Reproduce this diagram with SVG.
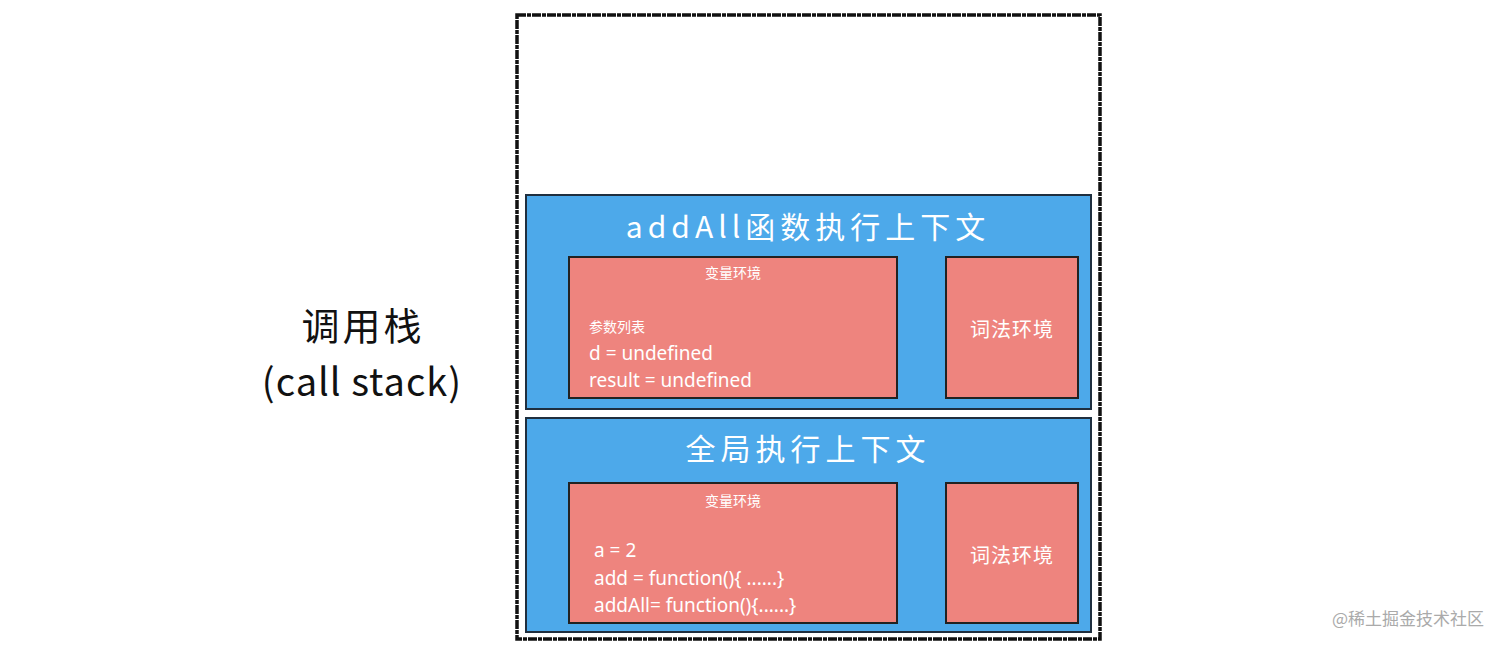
<svg xmlns="http://www.w3.org/2000/svg" width="1506" height="648" viewBox="0 0 1506 648">
<style>
.ctx{fill:#4da9ea;stroke:#1f2f3f;stroke-width:2}
.env{fill:#ee847e;stroke:#222;stroke-width:2}
.w{fill:#fff;font-family:"Noto Sans CJK SC","Noto Sans",sans-serif}
.t{font-size:30px;text-anchor:middle;letter-spacing:5px}
.s{font-size:14px}
.c{font-size:19px;font-family:"Noto Sans","Noto Sans CJK SC",sans-serif}
.lex{font-size:20px;text-anchor:middle;letter-spacing:1px}
.lbl{font-family:"Noto Sans CJK SC","Noto Sans",sans-serif;fill:#111;font-size:38px;text-anchor:middle}
</style>
<rect width="1506" height="648" fill="#fff"/>
<g id="stack">
<rect x="517" y="15" width="583" height="624" fill="#fff" stroke="#111" stroke-width="3.5" stroke-dasharray="9 1 4 1"/>
</g>
<g id="addAll-ctx">
<rect class="ctx" x="526" y="195" width="565" height="214"/>
<text class="w t" x="808" y="238">addAll函数执行上下文</text>
</g>
<g id="addAll-var">
<rect class="env" x="569" y="257" width="328" height="141"/>
<text class="w s" x="733" y="278" text-anchor="middle">变量环境</text>
<text class="w s" x="589" y="332">参数列表</text>
<text class="w c" x="589" y="360">d = undefined</text>
<text class="w c" x="589" y="387">result = undefined</text>
</g>
<g id="addAll-lex">
<rect class="env" x="946" y="257" width="132" height="141"/>
<text class="w lex" x="1012" y="337">词法环境</text>
</g>
<g id="global-ctx">
<rect class="ctx" x="526" y="418" width="565" height="214"/>
<text class="w t" x="808" y="460">全局执行上下文</text>
</g>
<g id="global-var">
<rect class="env" x="569" y="483" width="328" height="140"/>
<text class="w s" x="733" y="506" text-anchor="middle">变量环境</text>
<text class="w c" x="594" y="557">a = 2</text>
<text class="w c" x="594" y="585">add = function(){ ......}</text>
<text class="w c" x="594" y="612">addAll= function(){......}</text>
</g>
<g id="global-lex">
<rect class="env" x="946" y="483" width="132" height="140"/>
<text class="w lex" x="1012" y="563">词法环境</text>
</g>
<g id="label">
<text class="lbl" x="363" y="340" letter-spacing="3">调用栈</text>
<text class="lbl" x="362" y="396" letter-spacing="1">(call stack)</text>
</g>
<text x="1408" y="625" font-family="'Noto Sans CJK SC','Noto Sans',sans-serif" font-size="17" fill="#aaa" text-anchor="middle">@稀土掘金技术社区</text>
</svg>
